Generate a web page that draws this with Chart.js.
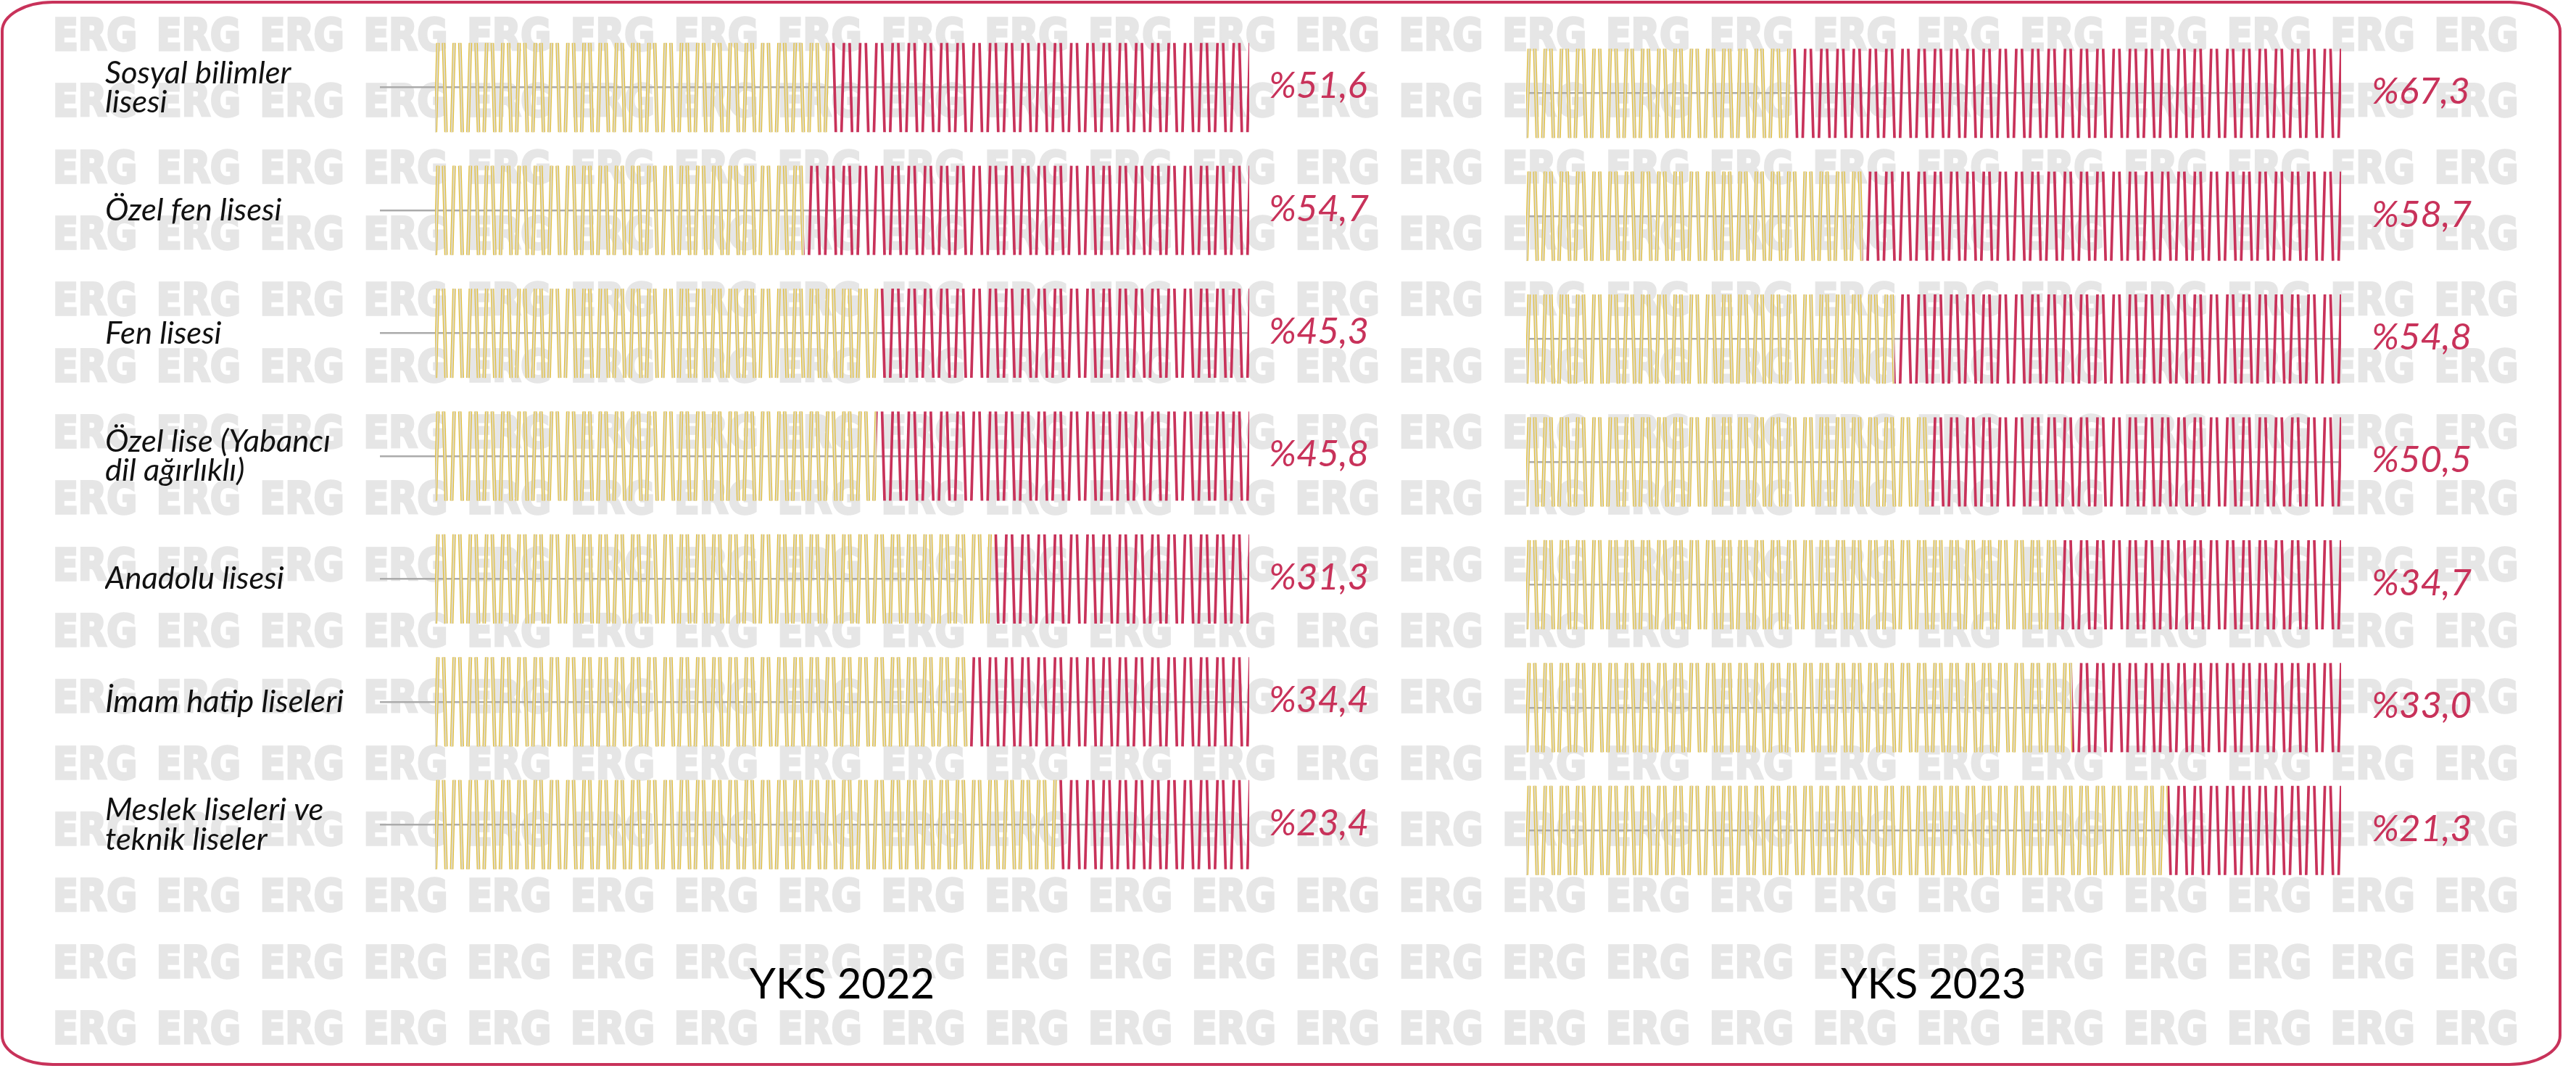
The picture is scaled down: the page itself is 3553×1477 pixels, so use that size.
<!DOCTYPE html>
<html>
<head>
<meta charset="utf-8">
<script src="https://cdn.jsdelivr.net/npm/chart.js@4.4.1/dist/chart.umd.min.js"></script>
<style>
  html, body { margin: 0; padding: 0; background: #fff; overflow: hidden; }
  canvas { position: absolute; left: 0; top: 0; }
</style>
</head>
<body>
<canvas id="bg" width="3553" height="1477"></canvas>
<canvas id="left" width="3553" height="1477"></canvas>
<canvas id="right" width="3553" height="1477"></canvas>
<script>
// data
const categories = [
  ["Sosyal bilimler", "lisesi"],
  "Özel fen lisesi",
  "Fen lisesi",
  ["Özel lise (Yabancı", "dil ağırlıklı)"],
  "Anadolu lisesi",
  "İmam hatip liseleri",
  ["Meslek liseleri ve", "teknik liseler"]
];
const yks2022 = [51.6, 54.7, 45.3, 45.8, 31.3, 34.4, 23.4];
const yks2023 = [67.3, 58.7, 54.8, 50.5, 34.7, 33.0, 21.3];
const panelTitles = ["YKS 2022", "YKS 2023"];

const CRIMSON = "#c8325a";

// background: ERG watermark and rounded frame
var bg = document.getElementById("bg").getContext("2d");
bg.save();
bg.beginPath();
bg.rect(6, 6, 3522, 1460);
bg.clip();
bg.fillStyle = "#e6e6e6";
bg.strokeStyle = "#e6e6e6";
bg.lineJoin = "miter";
bg.font = "bold 60px 'DejaVu Sans'";
var m = bg.measureText("ERG");
var sx = 116 / m.width;
var sy = 46 / m.actualBoundingBoxAscent;
for (var r = 0; r < 16; r++) {
  for (var c = 0; c < 24; c++) {
    bg.save();
    bg.translate(73 + c * 142.8, 22 + r * 91.33 + 47);
    bg.scale(sx, sy);
    bg.lineWidth = 3.5;
    bg.fillText("ERG", 0, 0);
    bg.strokeText("ERG", 0, 0);
    bg.restore();
  }
}
bg.restore();

function frame(ctx, x0, y0, x1, y1, rx, ry) {
  ctx.beginPath();
  ctx.moveTo(x0 + rx, y0);
  ctx.lineTo(x1 - rx, y0);
  ctx.ellipse(x1 - rx, y0 + ry, rx, ry, 0, -Math.PI / 2, 0);
  ctx.lineTo(x1, y1 - ry);
  ctx.ellipse(x1 - rx, y1 - ry, rx, ry, 0, 0, Math.PI / 2);
  ctx.lineTo(x0 + rx, y1);
  ctx.ellipse(x0 + rx, y1 - ry, rx, ry, 0, Math.PI / 2, Math.PI);
  ctx.lineTo(x0, y0 + ry);
  ctx.ellipse(x0 + rx, y0 + ry, rx, ry, 0, Math.PI, Math.PI * 1.5);
  ctx.closePath();
}
bg.strokeStyle = CRIMSON;
bg.lineWidth = 4;
frame(bg, 3, 3, 3531, 1468, 70, 40);
bg.stroke();

// zigzag fill for each bar, drawn inside the bar box the library computed
const P = 22.4, W = 7.8, R = (P - 2 * W) / 2;
const zigStyles = {
  beige: [["#e3c03c", 4.8], ["#ddd8c8", 2.4]],
  crimson: [[CRIMSON, 3.7]]
};

const zigzag = {
  id: "zigzag",
  afterDatasetDraw(chart, args) {
    const ds = chart.data.datasets[args.index];
    const styles = zigStyles[ds.zig];
    if (!styles) return;
    const ctx = chart.ctx;
    const origin = chart.scales.x.getPixelForValue(0) + 4;
    args.meta.data.forEach(function (bar) {
      const p = bar.getProps(["x", "y", "base", "height"], true);
      const left = Math.min(p.x, p.base), right = Math.max(p.x, p.base);
      const top = p.y - p.height / 2, bottom = p.y + p.height / 2;
      ctx.save();
      ctx.beginPath();
      ctx.rect(left, top - 5, right - left, bottom - top + 10);
      ctx.clip();
      ctx.beginPath();
      for (let k = Math.floor((left - origin) / P) - 1; origin + k * P < right + P; k++) {
        const x0 = origin + k * P;
        ctx.moveTo(x0 + W, top);
        ctx.lineTo(x0 + W + R, bottom);
        ctx.moveTo(x0 + 2 * W + R, bottom);
        ctx.lineTo(x0 + P, top);
      }
      ctx.lineCap = "butt";
      styles.forEach(function (s) {
        ctx.strokeStyle = s[0];
        ctx.lineWidth = s[1];
        ctx.stroke();
      });
      ctx.restore();
    });
  }
};

const valueLabels = {
  id: "valueLabels",
  afterDatasetsDraw(chart, args, opts) {
    const ctx = chart.ctx;
    const meta = chart.getDatasetMeta(1);
    const vals = chart.data.datasets[1].data;
    ctx.save();
    ctx.fillStyle = CRIMSON;
    ctx.font = "italic 51px Lato";
    ctx.textAlign = "left";
    ctx.textBaseline = "middle";
    meta.data.forEach(function (el, i) {
      ctx.fillText("%" + vals[i].toFixed(1).replace(".", ","), el.x + opts.offset, el.y + opts.dy);
    });
    ctx.restore();
  }
};

const panelTitle = {
  id: "panelTitle",
  afterDraw(chart, args, opts) {
    const ctx = chart.ctx;
    ctx.save();
    ctx.fillStyle = "#000";
    ctx.font = "58px Lato";
    ctx.textAlign = "center";
    ctx.textBaseline = "alphabetic";
    ctx.fillText(opts.text, chart.scales.x.getPixelForValue(50), opts.y);
    ctx.restore();
  }
};

function makeChart(id, values, title, o) {
  return new Chart(document.getElementById(id), {
    type: "bar",
    data: {
      labels: categories,
      datasets: [
        { label: "diğer", data: values.map(v => +(100 - v).toFixed(1)), backgroundColor: "rgba(0,0,0,0)", zig: "beige" },
        { label: "oran", data: values, backgroundColor: "rgba(0,0,0,0)", zig: "crimson" }
      ]
    },
    options: {
      indexAxis: "y",
      responsive: false,
      animation: false,
      layout: { padding: o.padding },
      datasets: { bar: { barThickness: 123, borderWidth: 0 } },
      scales: {
        x: { stacked: true, display: false, min: o.min, max: 100 },
        y: {
          stacked: true,
          grid: { offset: false, color: "#ababab", lineWidth: 2.5, drawTicks: false },
          border: { display: false },
          ticks: {
            display: o.showLabels,
            crossAlign: "far",
            padding: 0,
            color: "#111",
            font: { family: "Lato", style: "italic", size: 43.5, lineHeight: 0.93 }
          },
          afterFit: function (s) {
            s.width = o.axisWidth;
            s.paddingTop = 0;
            s.paddingBottom = 0;
          }
        }
      },
      plugins: {
        legend: { display: false },
        tooltip: { enabled: false },
        valueLabels: { offset: o.labelOffset, dy: -2 },
        panelTitle: { text: title, y: 1377 }
      }
    },
    plugins: [zigzag, valueLabels, panelTitle]
  });
}

makeChart("left", yks2022, panelTitles[0], {
  padding: { left: 145, right: 1830, top: 36, bottom: 255 },
  min: -6.77, showLabels: true, axisWidth: 379, labelOffset: 27
});
makeChart("right", yks2023, panelTitles[1], {
  padding: { left: 2105, right: 324, top: 44, bottom: 247 },
  min: 0, showLabels: false, axisWidth: 0, labelOffset: 42
});
</script>
</body>
</html>
